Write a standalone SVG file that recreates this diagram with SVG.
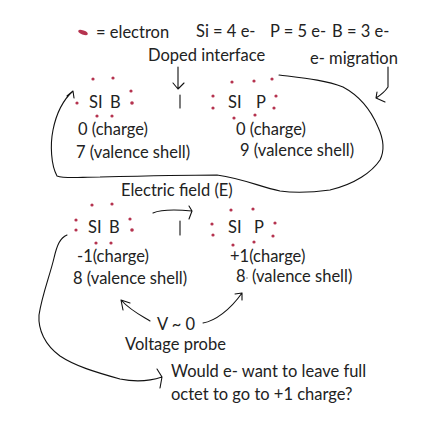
<svg xmlns="http://www.w3.org/2000/svg" width="438" height="425" viewBox="0 0 438 425">
<style>
text{font-family:Lato,"Open Sans",sans-serif;font-size:16.5px;fill:#222}
.d{fill:#b5334f}
.ln{fill:none;stroke:#111;stroke-width:1.1;stroke-linecap:round;stroke-linejoin:round}
</style>
<rect width="438" height="425" fill="#fff"/>
<g id="legend">
<ellipse class="d" cx="83" cy="32.5" rx="5" ry="2" transform="rotate(20 83 32.5)"/>
<text x="96" y="38">= electron</text>
<text x="196" y="37">Si = 4 e-</text>
<text x="270" y="37">P = 5 e-</text>
<text x="332" y="37">B = 3 e-</text>
</g>
<g id="labels-top">
<text x="148" y="61">Doped interface</text>
<text x="310" y="64">e- migration</text>
</g>
<g id="sib-top">
<circle class="d" cx="93" cy="79" r="1.6"/><circle class="d" cx="113" cy="78" r="1.6"/>
<circle class="d" cx="131" cy="91" r="1.6"/><circle class="d" cx="77" cy="103" r="1.6"/>
<circle class="d" cx="132" cy="103" r="1.8"/><circle class="d" cx="97" cy="116" r="1.6"/>
<circle class="d" cx="112" cy="116" r="1.6"/>
<text x="89" y="108">SI</text><text x="110" y="108">B</text>
<text x="78" y="135">0 (charge)</text>
<text x="76" y="158">7 (valence shell)</text>
</g>
<g id="interface-top"><line class="ln" x1="180" y1="95" x2="180" y2="108" stroke-width="1.4"/></g>
<g id="sip-top">
<circle class="d" cx="232" cy="82" r="1.6"/><circle class="d" cx="254" cy="81" r="1.6"/>
<circle class="d" cx="272" cy="79" r="1.6"/><circle class="d" cx="213" cy="96" r="1.6"/>
<circle class="d" cx="213" cy="108" r="1.6"/><circle class="d" cx="276" cy="96" r="1.6"/>
<circle class="d" cx="274" cy="108" r="1.6"/><circle class="d" cx="234" cy="118" r="1.6"/>
<circle class="d" cx="255" cy="115" r="1.6"/>
<text x="228" y="108">SI</text><text x="256" y="108">P</text>
<text x="236" y="135">0 (charge)</text>
<text x="240" y="156">9 (valence shell)</text>
</g>
<g id="labels-mid">
<text x="121" y="196">Electric field (E)</text>
</g>
<g id="sib-bottom">
<circle class="d" cx="92" cy="205" r="1.6"/><circle class="d" cx="112" cy="204" r="1.6"/>
<circle class="d" cx="76" cy="220" r="1.6"/><circle class="d" cx="76" cy="230" r="1.6"/>
<circle class="d" cx="130" cy="219" r="1.6"/><circle class="d" cx="132" cy="230" r="1.8"/>
<circle class="d" cx="96" cy="243" r="1.6"/><circle class="d" cx="111" cy="243" r="1.6"/>
<text x="88" y="233">SI</text><text x="109" y="233">B</text>
<text x="77" y="262">-1(charge)</text>
<text x="73" y="284">8 (valence shell)</text>
</g>
<g id="interface-bottom"><line class="ln" x1="180" y1="221" x2="180" y2="235" stroke-width="1.4"/></g>
<g id="sip-bottom">
<circle class="d" cx="231" cy="210" r="1.6"/><circle class="d" cx="253" cy="209" r="1.6"/>
<circle class="d" cx="212" cy="224" r="1.6"/><circle class="d" cx="213" cy="235" r="1.6"/>
<circle class="d" cx="275" cy="223" r="1.6"/><circle class="d" cx="273" cy="236" r="1.6"/>
<circle class="d" cx="233" cy="245" r="1.6"/><circle class="d" cx="254" cy="242" r="1.6"/>
<text x="228" y="233">SI</text><text x="254" y="233">P</text>
<text x="230" y="262">+1(charge)</text>
<text x="236" y="282">8</text><circle cx="247" cy="278" r="0.8" fill="#777"/>
<text x="252" y="282">(valence shell)</text>
</g>
<g id="probe">
<text x="157" y="330">V ~ 0</text>
<text x="125" y="350">Voltage probe</text>
</g>
<g id="question">
<text x="171" y="377">Would e- want to leave full</text>
<text x="171" y="400">octet to go to +1 charge?</text>
</g>
<g id="connectors">
<path class="ln" d="M178 67 L178 89 M173 83 L178 89 L184 83"/>
<path class="ln" d="M388 67 L388 87 Q384 93 376 98 M377 92 L376 98 L385 102"/>
<path class="ln" d="M279 75 C303 78 325 80 343 87 C358 95 370 108 378 127 C384 140 384 152 380 160 C372 172 355 184 330 190 C315 192 295 193 280 191 C260 187 245 179 217 175 C180 175 140 176 100 177 C80 177 65 179 57 176 C51 165 50 145 53 130 C56 115 63 100 73 91 M67 96 L73 91 L74 98"/>
<path class="ln" d="M153 213 C160 210 170 209 192 211 M189 206 L192 211 L189 219"/>
<path class="ln" d="M150 321 C140 315 130 310 121 300 M130 303 L121 300 L123 310"/>
<path class="ln" d="M203 323 C215 321 230 310 242 293 M235 294 L242 293 L242 300"/>
<path class="ln" d="M67 235 C60 238 57 245 54 258 C50 275 42 295 39 315 C38 330 45 345 60 356 C75 366 95 372 120 379 C135 382 150 381 162 377 M157 369 L162 377 L160 388"/>
</g>
</svg>
